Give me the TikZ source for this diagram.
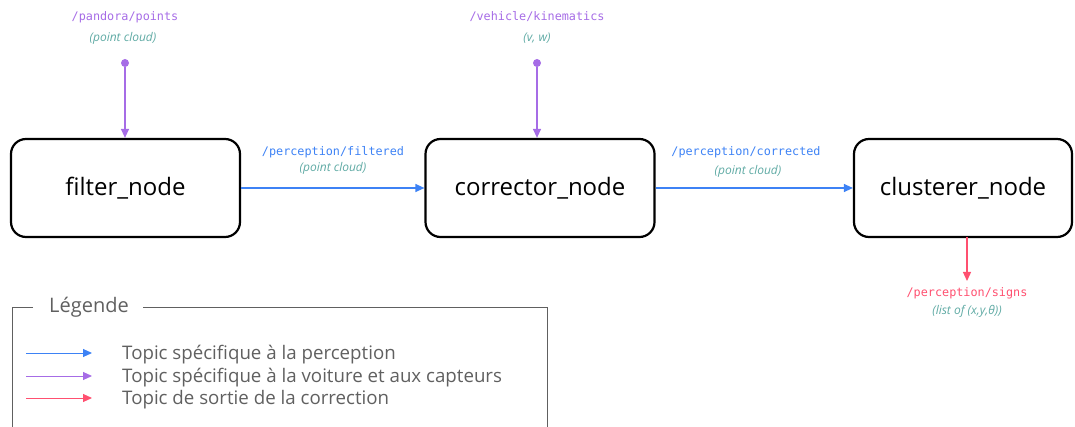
\documentclass[tikz,border=0pt]{standalone}
\usepackage{fontspec}
\setmainfont{Open Sans}
\setmonofont{DejaVu Sans Mono}
\usetikzlibrary{arrows.meta}
\definecolor{cblue}{HTML}{3D82F5}
\definecolor{cpurple}{HTML}{A66CE6}
\definecolor{cred}{HTML}{FF5070}
\definecolor{cteal}{HTML}{5FAAA4}
\definecolor{cgray}{HTML}{606060}
\tikzset{
  nodebox/.style={draw=black, line width=2.2pt, rounded corners=15pt, minimum width=229pt, minimum height=98pt, font=\fontsize{24}{28}\selectfont, inner sep=0pt},
  topic/.style={font=\ttfamily\fontsize{11.8}{13}\selectfont, inner sep=0pt},
  typ/.style={font=\itshape\fontsize{12}{14}\selectfont, text=cteal, inner sep=0pt},
  flow/.style={line width=1.2pt, -{Triangle[length=9pt,width=8pt]}},
  legtxt/.style={font=\fontsize{18.7}{22}\selectfont, text=cgray, anchor=west, inner sep=0pt},
  src/.style={circle, fill=cpurple, inner sep=0pt, minimum size=8pt}
}
\begin{document}
\begin{tikzpicture}[x=1pt,y=-1pt]
\useasboundingbox (0,0) rectangle (1075,427);
% nodes
\node[nodebox] (filter) at (125.5,188) {filter\_node};
\node[nodebox] (corrector) at (540,188) {corrector\_node};
\node[nodebox, minimum width=218pt] (clusterer) at (963,188) {clusterer\_node};
% purple sources
\node[topic, text=cpurple] (t1) at (125,17) {/pandora/points};
\node[typ] (y1) at (123,38) {(point cloud)};
\node[src] (s1) at (125,63) {};
\draw[flow, cpurple] (s1) -- (filter.north -| s1);
\node[topic, text=cpurple] (t2) at (537,17) {/vehicle/kinematics};
\node[typ] (y2) at (537,38) {(v, w)};
\node[src] (s2) at (537,63) {};
\draw[flow, cpurple] (s2) -- (corrector.north -| s2);
% blue flows
\draw[flow, cblue] (filter.east) -- (corrector.west);
\node[topic, text=cblue] (t3) at (333,152) {/perception/filtered};
\node[typ] (y3) at (333,168) {(point cloud)};
\draw[flow, cblue] (corrector.east) -- (clusterer.west);
\node[topic, text=cblue] (t4) at (746,152) {/perception/corrected};
\node[typ] (y4) at (748,171) {(point cloud)};
% red output
\coordinate (rs) at (967,237);
\coordinate (re) at (967,281);
\draw[flow, cred] (rs) -- (re);
\node[topic, text=cred] (t5) at (967,293) {/perception/signs};
\node[typ] (y5) at (967,311) {(list of (x,y,θ))};
% legend
\draw[cgray, line width=0.8pt] (33,307) -- (12,307) -- (12,430);
\draw[cgray, line width=0.8pt] (143,307) -- (547,307) -- (547,430);
\node[legtxt, anchor=center, font=\fontsize{20}{24}\selectfont] (lg) at (89,307) {Légende};
\coordinate (a1) at (26,353); \coordinate (b1) at (92,353);
\coordinate (a2) at (26,376); \coordinate (b2) at (92,376);
\coordinate (a3) at (26,398); \coordinate (b3) at (92,398);
\draw[flow, cblue, line width=1pt] (a1) -- (b1);
\draw[flow, cpurple, line width=1pt] (a2) -- (b2);
\draw[flow, cred, line width=1pt] (a3) -- (b3);
\node[legtxt] (l1) at (122,355) {Topic spécifique à la perception};
\node[legtxt] (l2) at (122,378) {Topic spécifique à la voiture et aux capteurs};
\node[legtxt] (l3) at (122,400) {Topic de sortie de la correction};
\end{tikzpicture}
\end{document}
